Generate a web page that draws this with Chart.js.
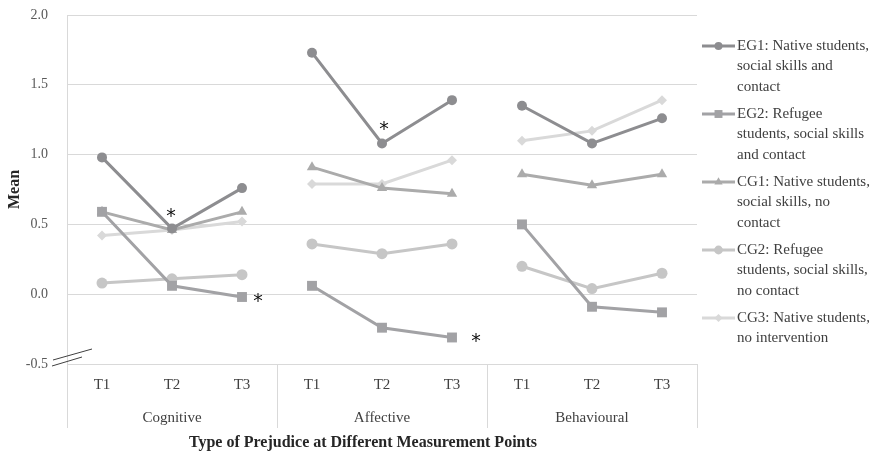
<!DOCTYPE html>
<html><head><meta charset="utf-8">
<script src="https://cdn.jsdelivr.net/npm/chart.js@4"></script>
<style>html,body{margin:0;padding:0;background:#fff}</style>
</head><body>
<canvas id="c" width="877" height="453"></canvas>
<script>
const timeLabels = ['T1','T2','T3','T1','T2','T3','T1','T2','T3'];
const groupLabels = ['Cognitive','Affective','Behavioural'];
const yTicks = [-0.5, 0, 0.5, 1, 1.5, 2];
const eg1 = [0.98, 0.47, 0.76, 1.73, 1.08, 1.39, 1.35, 1.08, 1.26];
const eg2 = [0.59, 0.06, -0.02, 0.06, -0.24, -0.31, 0.50, -0.09, -0.13];
const cg1 = [0.59, 0.46, 0.59, 0.91, 0.76, 0.72, 0.86, 0.78, 0.86];
const cg2 = [0.08, 0.11, 0.14, 0.36, 0.29, 0.36, 0.20, 0.04, 0.15];
const cg3 = [0.42, 0.46, 0.52, 0.79, 0.79, 0.96, 1.10, 1.17, 1.39];
const legendLines = [
  ['EG1: Native students,', 'social skills and', 'contact'],
  ['EG2: Refugee', 'students, social skills', 'and contact'],
  ['CG1: Native students,', 'social skills, no', 'contact'],
  ['CG2: Refugee', 'students, social skills,', 'no contact'],
  ['CG3: Native students,', 'no intervention']
];
const xTitle = 'Type of Prejudice at Different Measurement Points';
const yTitle = 'Mean';
// significance marks: series index, category index, pixel offset from the point
const asterisks = [
  {series: 0, index: 1, dx: -1, dy: -16},
  {series: 1, index: 2, dx: 16, dy: 1},
  {series: 0, index: 4, dx: 2, dy: -17},
  {series: 1, index: 5, dx: 24, dy: 1}
];

const FONT = "'Liberation Serif', 'DejaVu Serif', serif";
const styles = [
  {color: '#8d8d90', pointStyle: 'circle', radius: 5},
  {color: '#a2a2a5', pointStyle: 'rect', radius: 7},
  {color: '#ababab', pointStyle: 'triangle', radius: 6},
  {color: '#c6c6c6', pointStyle: 'circle', radius: 5.5},
  {color: '#d9d9d9', pointStyle: 'rectRot', radius: 5}
];
const seriesData = [eg1, eg2, cg1, cg2, cg3];

const datasets = seriesData.map((d, i) => ({
  label: legendLines[i].join(' '),
  data: d,
  borderColor: styles[i].color,
  backgroundColor: styles[i].color,
  pointBackgroundColor: styles[i].color,
  pointBorderColor: styles[i].color,
  pointStyle: styles[i].pointStyle,
  pointRadius: styles[i].radius,
  pointBorderWidth: 0,
  borderWidth: 3,
  tension: 0,
  order: i,
  segment: {
    borderColor: ctx => (ctx.p0DataIndex % 3 === 2) ? 'rgba(0,0,0,0)' : styles[i].color
  }
})).reverse();

const decor = {
  id: 'decor',
  afterDraw(chart) {
    const ctx = chart.ctx;
    const ca = chart.chartArea;
    const xs = chart.scales.x;
    ctx.save();
    ctx.strokeStyle = '#d9d9d9';
    ctx.lineWidth = 1;
    ctx.beginPath();
    ctx.moveTo(ca.left + 0.5, ca.top);
    ctx.lineTo(ca.left + 0.5, ca.bottom + 64);
    for (let g = 1; g <= groupLabels.length; g++) {
      let x;
      if (g === groupLabels.length) x = ca.right;
      else x = (xs.getPixelForValue(3 * g - 1) + xs.getPixelForValue(3 * g)) / 2;
      x = Math.round(x) + 0.5;
      ctx.moveTo(x, ca.bottom);
      ctx.lineTo(x, ca.bottom + 64);
    }
    ctx.stroke();
    // axis break
    ctx.strokeStyle = '#404040';
    ctx.lineWidth = 1;
    ctx.beginPath();
    ctx.moveTo(ca.left - 14, ca.bottom - 4);
    ctx.lineTo(ca.left + 25, ca.bottom - 15);
    ctx.moveTo(ca.left - 15, ca.bottom + 2);
    ctx.lineTo(ca.left + 15, ca.bottom - 7);
    ctx.stroke();
    // group labels
    ctx.fillStyle = '#404040';
    ctx.font = '15px ' + FONT;
    ctx.textAlign = 'center';
    ctx.textBaseline = 'middle';
    groupLabels.forEach((lab, g) => {
      const x = xs.getPixelForValue(3 * g + 1);
      ctx.fillText(lab, x, ca.bottom + 54);
    });
    ctx.fillStyle = '#262626';
    ctx.font = 'bold 16px ' + FONT;
    ctx.fillText(xTitle, (ca.left + ca.right) / 2 - 19, ca.bottom + 79);
    ctx.save();
    ctx.translate(15, (ca.top + ca.bottom) / 2);
    ctx.rotate(-Math.PI / 2);
    ctx.fillText(yTitle, 0, 0);
    ctx.restore();
    // asterisks
    ctx.fillStyle = '#111';
    ctx.font = "19px 'DejaVu Sans', sans-serif";
    asterisks.forEach(a => {
      const x = xs.getPixelForValue(a.index) + a.dx;
      const y = chart.scales.y.getPixelForValue(seriesData[a.series][a.index]) + a.dy;
      ctx.fillText('*', x, y + 4);
    });
    // legend
    ctx.textAlign = 'left';
    ctx.font = '15px ' + FONT;
    const lx0 = ca.right + 5, lx1 = ca.right + 38, tx = ca.right + 40;
    legendLines.forEach((lines, i) => {
      const y0 = ca.top + 31 + i * 68;
      const st = styles[i];
      ctx.strokeStyle = st.color;
      ctx.lineWidth = 3;
      ctx.beginPath();
      ctx.moveTo(lx0, y0);
      ctx.lineTo(lx1, y0);
      ctx.stroke();
      ctx.fillStyle = st.color;
      Chart.helpers.drawPoint(ctx, {pointStyle: st.pointStyle, radius: st.radius * 0.8, rotation: 0, borderWidth: 0}, (lx0 + lx1) / 2, y0);
      ctx.fillStyle = '#404040';
      lines.forEach((t, k) => ctx.fillText(t, tx, y0 + k * 20.5));
    });
    ctx.restore();
  }
};

new Chart(document.getElementById('c'), {
  type: 'line',
  data: {labels: timeLabels, datasets},
  options: {
    responsive: false,
    animation: false,
    devicePixelRatio: 1,
    layout: {padding: {top: 15, right: 180, left: 0, bottom: 0}},
    plugins: {legend: {display: false}, tooltip: {enabled: false}},
    scales: {
      x: {
        offset: true,
        grid: {display: false, drawTicks: false, offset: true},
        border: {display: false},
        ticks: {color: '#404040', font: {family: FONT, size: 15}, padding: 12, maxRotation: 0, autoSkip: false},
        afterFit(s) { s.height = 89; s.paddingLeft = 0; s.paddingRight = 0; }
      },
      y: {
        min: -0.5, max: 2,
        afterBuildTicks(s) { s.ticks = yTicks.map(v => ({value: v})); },
        grid: {color: '#d9d9d9', drawTicks: false, lineWidth: 1},
        border: {display: false},
        ticks: {color: '#595959', font: {family: FONT, size: 14}, padding: 19, callback: v => Number(v).toFixed(1)},
        afterFit(s) { s.width = 67; s.paddingTop = 0; s.paddingBottom = 0; }
      }
    }
  },
  plugins: [decor]
});
</script>
</body></html>
